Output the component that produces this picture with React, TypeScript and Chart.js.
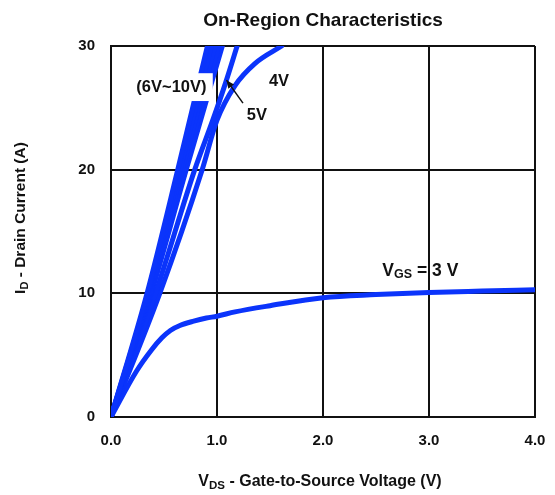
import React, { useEffect, useRef } from 'react';
import { Chart, registerables } from 'chart.js';

Chart.register(...registerables);

// ---- data ----
const xTicks = [0, 1, 2, 3, 4];
const yTicks = [0, 10, 20, 30];

const curveNames = ['10V', '9V', '8V', '7V', '6V', '5V', '4V', '3V'];

const vds10V = [0, 0.34, 0.63, 0.91];
const id10V = [0, 10, 20, 30];
const vds9V = [0, 0.35, 0.65, 0.945];
const id9V = [0, 10, 20, 30];
const vds8V = [0, 0.36, 0.67, 0.98];
const id8V = [0, 10, 20, 30];
const vds7V = [0, 0.37, 0.69, 1.015];
const id7V = [0, 10, 20, 30];
const vds6V = [0, 0.38, 0.71, 1.05];
const id6V = [0, 10, 20, 30];
const vds5V = [0, 0.42, 0.79, 0.96, 1.08, 1.19];
const id5V = [0, 10, 20, 24, 27, 30];
const vds4V = [0, 0.46, 0.86, 1.0, 1.17, 1.36, 1.61];
const id4V = [0, 10, 20, 24, 26.8, 28.6, 30];
const vds3V = [0, 0.24, 0.38, 0.48, 0.56, 0.65, 0.78, 0.9, 1.0, 1.17, 1.5, 2.0, 2.5, 3.0, 3.5, 4.0];
const id3V = [0, 3.7, 5.4, 6.4, 7.0, 7.4, 7.75, 8.0, 8.15, 8.5, 9.0, 9.65, 9.9, 10.07, 10.18, 10.28];

const curveVds = [vds10V, vds9V, vds8V, vds7V, vds6V, vds5V, vds4V, vds3V];
const curveId = [id10V, id9V, id8V, id7V, id6V, id5V, id4V, id3V];

const titleText = 'On-Region Characteristics';
const bandLabel = '(6V~10V)';

// ---- style ----
const BLUE = '#0b34fb';
const INK = '#111111';
const FONT = '"Liberation Sans", Arial, Helvetica, sans-serif';

type Part = { text: string; size: number; dy?: number };

function drawRich(ctx: CanvasRenderingContext2D, parts: Part[], x: number, y: number, align: 'left' | 'center') {
  const widths = parts.map((p) => {
    ctx.font = `bold ${p.size}px ${FONT}`;
    return ctx.measureText(p.text).width;
  });
  const total = widths.reduce((a, b) => a + b, 0);
  let cx = align === 'center' ? x - total / 2 : x;
  ctx.textAlign = 'left';
  ctx.textBaseline = 'middle';
  parts.forEach((p, i) => {
    ctx.font = `bold ${p.size}px ${FONT}`;
    ctx.fillText(p.text, cx, y + (p.dy || 0));
    cx += widths[i];
  });
}

const annotationPlugin = {
  id: 'annotations',
  afterDatasetsDraw(chart: any) {
    const ctx: CanvasRenderingContext2D = chart.ctx;
    const xs = chart.scales.x;
    const ys = chart.scales.y;
    const px = (v: number) => xs.getPixelForValue(v);
    const py = (v: number) => ys.getPixelForValue(v);
    ctx.save();
    // white box behind band label
    ctx.fillStyle = '#ffffff';
    const bx0 = px(0.18), bx1 = px(0.96), by0 = py(27.8), by1 = py(25.55);
    ctx.fillRect(bx0, by0, bx1 - bx0, by1 - by0);
    ctx.fillStyle = INK;
    drawRich(ctx, [{ text: bandLabel, size: 16.5 }], px(0.57), py(26.64), 'center');
    drawRich(ctx, [{ text: '4V', size: 16.5 }], px(1.585), py(27.16), 'center');
    drawRich(ctx, [{ text: '5V', size: 16.5 }], px(1.377), py(24.41), 'center');
    drawRich(
      ctx,
      [
        { text: 'V', size: 17.5 },
        { text: 'GS', size: 12.5, dy: 4 },
        { text: ' = 3 V', size: 17.5 },
      ],
      px(2.56),
      py(11.83),
      'left'
    );
    // arrow pointing to 5V curve
    const ax0 = px(1.245), ay0 = py(25.38), ax1 = px(1.09), ay1 = py(27.24);
    ctx.strokeStyle = INK;
    ctx.lineWidth = 1.5;
    ctx.beginPath();
    ctx.moveTo(ax0, ay0);
    ctx.lineTo(ax1, ay1);
    ctx.stroke();
    const ang = Math.atan2(ay1 - ay0, ax1 - ax0);
    const L = 8, W = 3.5;
    ctx.beginPath();
    ctx.moveTo(ax1, ay1);
    ctx.lineTo(ax1 - L * Math.cos(ang) + W * Math.sin(ang), ay1 - L * Math.sin(ang) - W * Math.cos(ang));
    ctx.lineTo(ax1 - L * Math.cos(ang) - W * Math.sin(ang), ay1 - L * Math.sin(ang) + W * Math.cos(ang));
    ctx.closePath();
    ctx.fill();
    ctx.restore();
  },
  afterDraw(chart: any) {
    const ctx: CanvasRenderingContext2D = chart.ctx;
    const area = chart.chartArea;
    ctx.save();
    ctx.fillStyle = INK;
    const cx = (area.left + area.right) / 2;
    drawRich(ctx, [{ text: titleText, size: 19 }], cx, 21, 'center');
    drawRich(
      ctx,
      [
        { text: 'V', size: 16 },
        { text: 'DS', size: 11.5, dy: 4 },
        { text: ' - Gate-to-Source Voltage (V)', size: 16 },
      ],
      cx - 3,
      482,
      'center'
    );
    ctx.translate(21, 218);
    ctx.rotate(-Math.PI / 2);
    drawRich(
      ctx,
      [
        { text: 'I', size: 15.5 },
        { text: 'D', size: 11, dy: 4 },
        { text: ' - Drain Current (A)', size: 15.5 },
      ],
      0,
      0,
      'center'
    );
    ctx.restore();
  },
};

export default function App() {
  const ref = useRef<HTMLCanvasElement | null>(null);
  useEffect(() => {
    if (!ref.current) return;
    const datasets = curveNames.map((name, i) => ({
      label: name,
      data: curveVds[i].map((v, k) => ({ x: v, y: curveId[i][k] })),
      borderColor: BLUE,
      backgroundColor: BLUE,
      borderWidth: 5,
      pointRadius: 0,
      fill: false,
      cubicInterpolationMode: 'monotone' as const,
      borderCapStyle: 'round' as const,
      borderJoinStyle: 'round' as const,
    }));
    const chart = new Chart(ref.current, {
      type: 'line',
      data: { datasets },
      options: {
        animation: false,
        responsive: false,
        devicePixelRatio: 1,
        layout: { padding: { top: 46, right: 20, left: 0, bottom: 0 } },
        plugins: { legend: { display: false }, tooltip: { enabled: false }, title: { display: false } },
        scales: {
          x: {
            type: 'linear',
            min: 0,
            max: 4,
            afterBuildTicks: (s: any) => {
              s.ticks = xTicks.map((v) => ({ value: v }));
            },
            afterFit: (s: any) => {
              s.height = 78;
              s.paddingLeft = 0;
              s.paddingRight = 0;
            },
            ticks: {
              callback: (v: any) => Number(v).toFixed(1),
              font: { family: FONT, size: 15, weight: 'bold' },
              color: INK,
              padding: 15,
              maxRotation: 0,
            },
            grid: { color: INK, lineWidth: 2, drawTicks: false },
            border: { display: true, color: INK, width: 2 },
          },
          y: {
            type: 'linear',
            min: 0,
            max: 30,
            afterBuildTicks: (s: any) => {
              s.ticks = yTicks.map((v) => ({ value: v }));
            },
            afterFit: (s: any) => {
              s.width = 111;
              s.paddingTop = 0;
              s.paddingBottom = 0;
            },
            ticks: {
              callback: (v: any) => String(v),
              font: { family: FONT, size: 15, weight: 'bold' },
              color: INK,
              padding: 16,
            },
            grid: { color: INK, lineWidth: 2, drawTicks: false },
            border: { display: true, color: INK, width: 2 },
          },
        },
      },
      plugins: [annotationPlugin],
    });
    return () => chart.destroy();
  }, []);
  return (
    <div style={{ position: 'fixed', left: 0, top: 0, width: 555, height: 495, background: '#fff' }}>
      <canvas ref={ref} width={555} height={495} />
    </div>
  );
}
